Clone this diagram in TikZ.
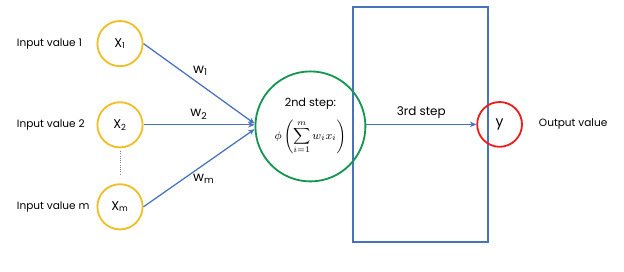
\documentclass[tikz,border=0pt]{standalone}
\usepackage{amsmath}
\usepackage{fontspec}
\setmainfont{Poppins}
\usepackage{tikz}
\usetikzlibrary{arrows.meta,positioning,calc}
\definecolor{nyellow}{RGB}{242,190,40}
\definecolor{ngreen}{RGB}{20,150,80}
\definecolor{nred}{RGB}{235,30,30}
\definecolor{nblue}{RGB}{72,114,190}

\begin{document}
\begin{tikzpicture}[
  inputnode/.style={circle, draw=nyellow, line width=1.3pt, minimum size=1.13cm, inner sep=0pt, font=\fontsize{9}{10}\selectfont},
  arrow/.style={-{Stealth[length=1.6mm,width=1.4mm]}, draw=nblue, line width=0.9pt},
  label/.style={font=\fontsize{7.5}{9}\selectfont},
  weight/.style={font=\fontsize{9.5}{10}\selectfont},
]
\useasboundingbox (0,0) rectangle (15.6,-6.775);
% hidden layer box
\draw[nblue, line width=1.2pt] (8.83,-0.175) rectangle (12.2,-6.05);
% inputs
\node[inputnode] (X1) at (3.0,-1.09) {X\textsubscript{1}};
\node[inputnode] (X2) at (3.0,-3.12) {X\textsubscript{2}};
\node[inputnode] (Xm) at (3.0,-5.17) {X\textsubscript{m}};
\node[label, anchor=west] (I1) at (0.3,-1.09) {Input value 1};
\node[label, anchor=west] (I2) at (0.3,-3.12) {Input value 2};
\node[label, anchor=west] (Im) at (0.3,-5.17) {Input value m};
\draw[gray, densely dotted, line width=0.6pt, shorten <=2pt, shorten >=6pt] (X2.south) -- (Xm.north);
% neuron
\node[circle, draw=ngreen, line width=1.3pt, minimum size=2.75cm, align=center, inner sep=0pt, font=\fontsize{8}{10}\selectfont] (G) at (7.76,-3.16)
  {2nd step:\\[6pt]$\displaystyle\phi\left(\sum_{i=1}^{m} w_i x_i\right)$};
% output
\node[circle, draw=nred, line width=1.3pt, minimum size=1.12cm, inner sep=0pt, font=\fontsize{10}{12}\selectfont] (Y) at (12.49,-3.11) {y};
\node[label, anchor=west] (O) at (13.35,-3.11) {Output value};
% connections
\draw[arrow] (X1.east) -- node[weight, above right=-1pt and -4pt, pos=0.45] {w\textsubscript{1}} ([yshift=2pt]G.west);
\draw[arrow] (X2.east) -- node[weight, above, pos=0.5] {w\textsubscript{2}} (X2.east -| G.west);
\draw[arrow] (Xm.east) -- node[weight, below right=-2pt and -4pt, pos=0.45] {w\textsubscript{m}} ([yshift=-2pt]G.west);
\draw[arrow] (G.east |- Y.west) -- node[label, font=\fontsize{8.5}{10}\selectfont, above] {3rd step} (Y.west);
\end{tikzpicture}
\end{document}
